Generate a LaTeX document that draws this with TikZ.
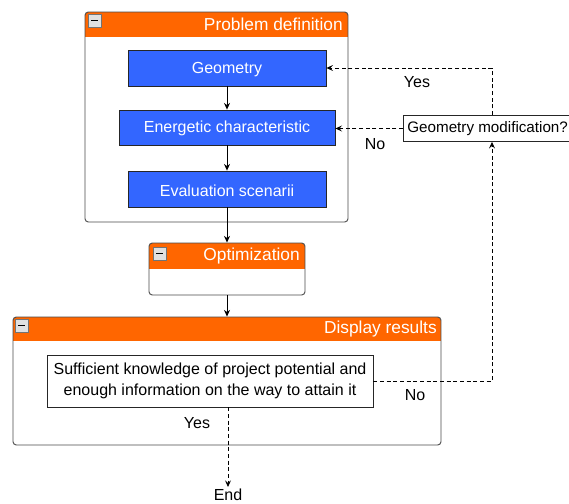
\documentclass[tikz,border=0pt]{standalone}
\usepackage{fontspec}
\setmainfont{Liberation Sans}
\usetikzlibrary{arrows.meta,fit,positioning}
\definecolor{hdr}{HTML}{FF6600}
\definecolor{blu}{HTML}{3366FF}
\tikzset{
  box/.style={inner sep=0pt, draw=black!85, line width=0.6pt},
  cont/.style={inner sep=0pt, draw=black!70, line width=0.7pt, rounded corners=2.5pt},
  bluebox/.style={box, fill=blu},
  btxt/.style={text=white, font=\fontsize{12}{14}\selectfont, yshift=-1pt},
  whitebox/.style={draw=black!85, line width=0.6pt, fill=white, font=\fontsize{11.4}{14}\selectfont, align=center},
  title/.style={text=white, font=\fontsize{13}{15}\selectfont, anchor=east, inner sep=0pt},
  lbl/.style={font=\fontsize{12}{14}\selectfont, inner sep=0pt},
  flow/.style={-{Stealth[length=5pt,width=4.5pt]}, line width=0.6pt},
  dflow/.style={-{Stealth[length=5pt,width=4.5pt,inset=2pt]}, line width=0.6pt, dash pattern=on 3pt off 2pt},
  btn/.style={draw=black!55, fill=black!12, line width=0.4pt, inner sep=0pt}
}
\newcommand{\hdrbar}[5]{% name, x1, y1, x2, ybottom
  \begin{scope}
    \clip[rounded corners=2.5pt] (#2,#3) rectangle (#4,#5+40);
    \fill[hdr] (#2,#3) rectangle (#4,#5);
  \end{scope}
}
\begin{document}
\begin{tikzpicture}[x=0.75pt,y=-0.75pt]
\useasboundingbox (0,0) rectangle (569,504);
\fill[white] (0,0) rectangle (569,504);

% Problem definition container
\hdrbar{pd}{85}{12}{348}{37}
\node[cont, fit={(85,12) (348,222)}] (pd) {};
\node[title] (pdt) at (343,24.5) {Problem definition};
\node[btn, fit={(88,14) (101,27)}] (pdb) {};
\draw[line width=1pt] (91,20.5) -- (98,20.5);

% blue boxes
\node[bluebox, fit={(128,50) (326,86)}] (geo) {};
\node[btxt] (geot) at (geo.center) {Geometry};
\node[bluebox, fit={(119,110) (335,145)}] (ene) {};
\node[btxt] (enet) at (ene.center) {Energetic characteristic};
\node[bluebox, fit={(128,171) (326,207)}] (eva) {};
\node[btxt] (evat) at (eva.center) {Evaluation scenarii};

% Optimization container
\hdrbar{op}{149}{243}{305}{269}
\node[cont, fit={(149,243) (305,295)}] (op) {};
\node[title] (opt) at (300,256) {Optimization};
\node[btn, fit={(153,247) (166,260)}] (opb) {};
\draw[line width=1pt] (156,253.5) -- (163,253.5);

% Display results container
\hdrbar{dr}{13}{317}{441}{341}
\node[cont, fit={(13,317) (441,445)}] (dr) {};
\node[title] (drt) at (437,329) {Display results};
\node[btn, fit={(15,319) (28,332)}] (drb) {};
\draw[line width=1pt] (18,325.5) -- (25,325.5);

% decision box
\node[draw=black!85, line width=0.6pt, fill=white, inner sep=0pt, fit={(47,355) (373,407)}] (suf) {};
\node[font=\fontsize{12}{16}\selectfont, align=center] (suft) at (suf.center) {Sufficient knowledge of project potential and\\enough information on the way to attain it};

% Geometry modification
\node[whitebox, anchor=west, minimum height=19.5pt, inner xsep=3pt] (gm) at (403,128.5) {Geometry modification?};

% End
\node[font=\fontsize{12}{14}\selectfont, inner sep=1pt, anchor=north] (end) at (228,487) {End};

% coordinates
\coordinate (cx) at (492,0);

% solid arrows
\draw[flow] (geo) -- (ene);
\draw[flow] (ene) -- (eva);
\draw[flow] (eva) -- (op);
\draw[flow] (op) -- (dr);

% dashed
\draw[dflow] (gm.west) -- (gm.west -| ene.east);
\draw[dflow] (gm.north -| cx) |- (geo.east);
\draw[dflow] (suf.east) -| (gm.south -| cx);
\draw[dflow] (suf.south -| end) -- (end.north);

% labels
\node[lbl] (l1) at (417,82) {Yes};
\node[lbl] (l2) at (375,144) {No};
\node[lbl] (l3) at (415,395) {No};
\node[lbl] (l4) at (197,423) {Yes};
\end{tikzpicture}
\end{document}
